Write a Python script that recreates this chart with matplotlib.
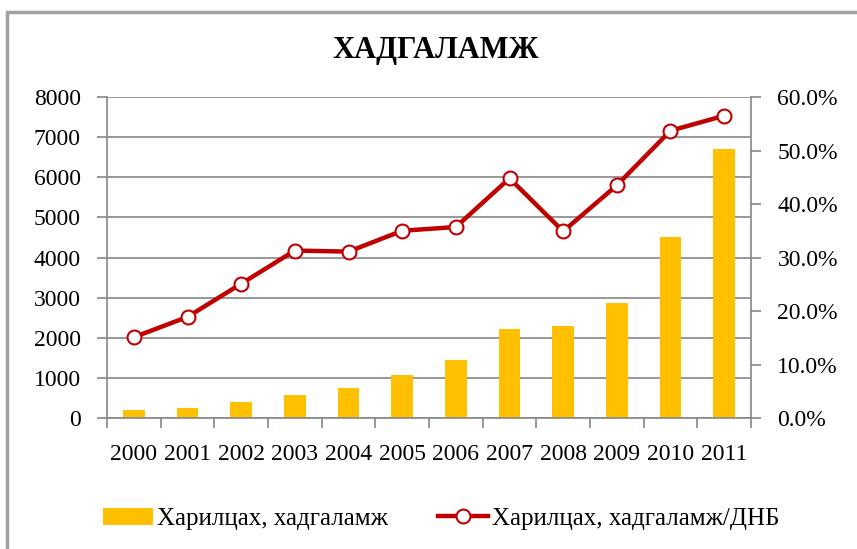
import numpy as np
import matplotlib.pyplot as plt
from matplotlib.patches import Rectangle
from matplotlib.ticker import PercentFormatter

plt.rcParams['font.family'] = ['Liberation Serif', 'DejaVu Serif']

# Хадгаламж
years = ['2000', '2001', '2002', '2003', '2004', '2005',
         '2006', '2007', '2008', '2009', '2010', '2011']
savings = [190, 260, 390, 575, 740, 1065, 1445, 2220, 2285, 2875, 4510, 6695]
ratio = [15.1, 18.9, 25.1, 31.3, 31.1, 35.0, 35.7, 44.8, 34.9, 43.5, 53.7, 56.5]

bar_label = 'Харилцах, хадгаламж'
line_label = 'Харилцах, хадгаламж/ДНБ'

grey = '#868686'
gold = '#FFC000'
red = '#C00000'

fig = plt.figure(figsize=(8.57, 5.49), dpi=100)
fig.patches.append(Rectangle((7 / 857, -0.1), 1.1, 1.1 - 12 / 549, transform=fig.transFigure,
                             fill=False, edgecolor='#a0a0a0', linewidth=2.5))

ax = fig.add_axes([0.1249, 0.2386, 0.7514, 0.5847])
x = np.arange(len(years))
bars = ax.bar(x, savings, width=0.4, color=gold, zorder=2, label=bar_label)
ax.set_ylim(0, 8000)
ax.set_yticks(np.arange(0, 8001, 1000))
ax.set_xlim(-0.5, len(years) - 0.5)
ax.set_xticks(np.arange(-0.5, len(years), 1))
ax.set_xticklabels([])
ax.set_xticks(x, minor=True)
ax.set_xticklabels(years, minor=True)
ax.tick_params(axis='x', which='minor', length=0, pad=19, labelsize=17)
ax.tick_params(axis='x', which='major', length=7, color=grey, width=1.2)
ax.tick_params(axis='y', length=7, color=grey, width=1.2, pad=12, labelsize=17)
ax.yaxis.grid(True, color=grey, linewidth=1.2, zorder=0)
ax.set_axisbelow(True)
for side in ['left', 'bottom']:
    ax.spines[side].set_color(grey)
    ax.spines[side].set_linewidth(1.2)
ax.spines['top'].set_visible(False)
ax.spines['right'].set_visible(False)

ax2 = ax.twinx()
line, = ax2.plot(x, ratio, color=red, linewidth=3.2, marker='o', markersize=10,
                 markerfacecolor='white', markeredgecolor=red, markeredgewidth=1.5,
                 zorder=3, label=line_label)
ax2.set_ylim(0, 60)
ax2.set_yticks(np.arange(0, 61, 10))
ax2.yaxis.set_major_formatter(PercentFormatter(decimals=1))
ax2.tick_params(axis='y', length=7, color=grey, width=1.2, pad=12, labelsize=17)
ax2.spines['right'].set_color(grey)
ax2.spines['right'].set_linewidth(1.2)
for side in ['top', 'left', 'bottom']:
    ax2.spines[side].set_visible(False)

fig.text(0.508, 0.908, 'ХАДГАЛАМЖ', ha='center', va='center',
         fontsize=22, fontweight='bold')

fig.legend([bars, line], [bar_label, line_label], loc='center', ncol=2,
           bbox_to_anchor=(0.515, 0.055), frameon=False, fontsize=18,
           handlelength=2.0, columnspacing=2.0, handletextpad=0.15)

fig.savefig('out.png', dpi=100)
